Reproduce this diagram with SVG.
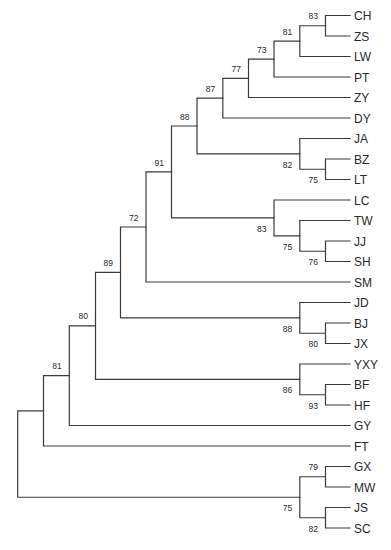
<svg xmlns="http://www.w3.org/2000/svg" width="391" height="550" viewBox="0 0 391 550">
<style>
.br{fill:none;stroke:#3a3a3a;stroke-width:1.2;stroke-linecap:square}
.leaf{font-family:"Liberation Sans",Arial,sans-serif;font-size:12px;fill:#2a2a2a}
.bs{font-family:"Liberation Sans",Arial,sans-serif;font-size:8.5px;fill:#2a2a2a;text-anchor:end}
</style>
<rect width="391" height="550" fill="#fff"/>
<g id="connectors" class="br">
<path d="M350,15.5 H325.5 V36 H350"/>
<path d="M325.5,25.75 H299.8 V56.5 H350"/>
<path d="M299.8,41.125 H274 V77 H350"/>
<path d="M274,59.06 H248.5 V97.5 H350"/>
<path d="M248.5,78.28 H222.8 V118 H350"/>
<path d="M350,159 H325.5 V179.5 H350"/>
<path d="M350,138.5 H299.8 V169.25 H325.5"/>
<path d="M222.8,98.14 H197 V153.875 H299.8"/>
<path d="M350,241 H325.5 V261.5 H350"/>
<path d="M350,220.5 H299.8 V251.25 H325.5"/>
<path d="M350,200 H274 V235.875 H299.8"/>
<path d="M197,126 H171.5 V217.94 H274"/>
<path d="M171.5,171.97 H146 V282 H350"/>
<path d="M350,323 H325.5 V343.5 H350"/>
<path d="M350,302.5 H299.8 V333.25 H325.5"/>
<path d="M146,226.98 H120.5 V317.875 H299.8"/>
<path d="M350,384.5 H325.5 V405 H350"/>
<path d="M350,364 H299.8 V394.75 H325.5"/>
<path d="M120.5,272.43 H95.5 V379.375 H299.8"/>
<path d="M95.5,325.9 H69.3 V425.5 H350"/>
<path d="M69.3,375.7 H43.5 V446 H350"/>
<path d="M350,466.5 H325.5 V487 H350"/>
<path d="M350,507.5 H325.5 V528 H350"/>
<path d="M325.5,476.75 H299.8 V517.75 H325.5"/>
<path d="M43.5,410.85 H17.7 V497.25 H299.8"/>
</g>
<g id="leaf-CH"><text class="leaf" x="354" y="20">CH</text></g>
<g id="leaf-ZS"><text class="leaf" x="354" y="40.5">ZS</text></g>
<g id="leaf-LW"><text class="leaf" x="354" y="61">LW</text></g>
<g id="leaf-PT"><text class="leaf" x="354" y="81.5">PT</text></g>
<g id="leaf-ZY"><text class="leaf" x="354" y="102">ZY</text></g>
<g id="leaf-DY"><text class="leaf" x="354" y="122.5">DY</text></g>
<g id="leaf-JA"><text class="leaf" x="354" y="143">JA</text></g>
<g id="leaf-BZ"><text class="leaf" x="354" y="163.5">BZ</text></g>
<g id="leaf-LT"><text class="leaf" x="354" y="184">LT</text></g>
<g id="leaf-LC"><text class="leaf" x="354" y="204.5">LC</text></g>
<g id="leaf-TW"><text class="leaf" x="354" y="225">TW</text></g>
<g id="leaf-JJ"><text class="leaf" x="354" y="245.5">JJ</text></g>
<g id="leaf-SH"><text class="leaf" x="354" y="266">SH</text></g>
<g id="leaf-SM"><text class="leaf" x="354" y="286.5">SM</text></g>
<g id="leaf-JD"><text class="leaf" x="354" y="307">JD</text></g>
<g id="leaf-BJ"><text class="leaf" x="354" y="327.5">BJ</text></g>
<g id="leaf-JX"><text class="leaf" x="354" y="348">JX</text></g>
<g id="leaf-YXY"><text class="leaf" x="354" y="368.5">YXY</text></g>
<g id="leaf-BF"><text class="leaf" x="354" y="389">BF</text></g>
<g id="leaf-HF"><text class="leaf" x="354" y="409.5">HF</text></g>
<g id="leaf-GY"><text class="leaf" x="354" y="430">GY</text></g>
<g id="leaf-FT"><text class="leaf" x="354" y="450.5">FT</text></g>
<g id="leaf-GX"><text class="leaf" x="354" y="471">GX</text></g>
<g id="leaf-MW"><text class="leaf" x="354" y="491.5">MW</text></g>
<g id="leaf-JS"><text class="leaf" x="354" y="512">JS</text></g>
<g id="leaf-SC"><text class="leaf" x="354" y="532.5">SC</text></g>
<g id="node-CH-ZS"><text class="bs" x="318" y="19.3">83</text></g>
<g id="node-CH-LW"><text class="bs" x="292.3" y="34.6">81</text></g>
<g id="node-CH-PT"><text class="bs" x="266.5" y="52.6">73</text></g>
<g id="node-CH-ZY"><text class="bs" x="241" y="71.8">77</text></g>
<g id="node-CH-DY"><text class="bs" x="215.3" y="91.6">87</text></g>
<g id="node-CH-LT"><text class="bs" x="189.5" y="119.5">88</text></g>
<g id="node-CH-SH"><text class="bs" x="164" y="165.5">91</text></g>
<g id="node-CH-SM"><text class="bs" x="138.5" y="220.5">72</text></g>
<g id="node-CH-JX"><text class="bs" x="113" y="265.9">89</text></g>
<g id="node-CH-HF"><text class="bs" x="88" y="319.4">80</text></g>
<g id="node-CH-GY"><text class="bs" x="61.8" y="369.2">81</text></g>
<g id="node-CH-FT"></g>
<g id="node-root"></g>
<g id="node-JA-LT"><text class="bs" x="292.3" y="167.9">82</text></g>
<g id="node-BZ-LT"><text class="bs" x="318" y="183.3">75</text></g>
<g id="node-LC-SH"><text class="bs" x="266.5" y="231.9">83</text></g>
<g id="node-TW-SH"><text class="bs" x="292.3" y="249.9">75</text></g>
<g id="node-JJ-SH"><text class="bs" x="318" y="265.3">76</text></g>
<g id="node-JD-JX"><text class="bs" x="292.3" y="331.9">88</text></g>
<g id="node-BJ-JX"><text class="bs" x="318" y="347.3">80</text></g>
<g id="node-YXY-HF"><text class="bs" x="292.3" y="393.4">86</text></g>
<g id="node-BF-HF"><text class="bs" x="318" y="408.8">93</text></g>
<g id="node-GX-MW"><text class="bs" x="318" y="470.3">79</text></g>
<g id="node-GX-SC"><text class="bs" x="292.3" y="511.3">75</text></g>
<g id="node-JS-SC"><text class="bs" x="318" y="531.8">82</text></g>
</svg>
